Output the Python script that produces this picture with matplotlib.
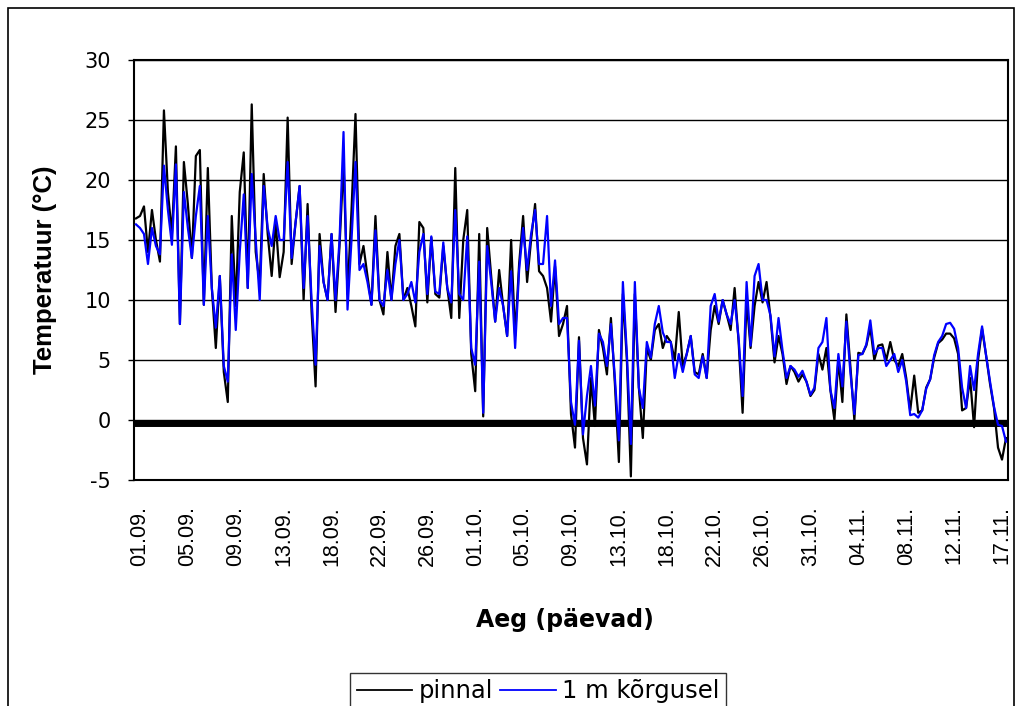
import numpy as np
import matplotlib.pyplot as plt
from matplotlib.patches import Rectangle

plt.rcParams['font.family'] = ['Liberation Sans', 'DejaVu Sans']
plt.rcParams['axes.unicode_minus'] = False

# temperatuur maapinnal (pinnal)
pinnal = [
    16.8, 17.0, 17.8, 14.0, 17.5, 15.0, 13.2, 25.8, 19.0, 15.5,
    22.8, 8.0, 21.5, 18.0, 13.5, 22.0, 22.5, 9.6, 21.0, 11.0,
    6.0, 12.0, 4.0, 1.5, 17.0, 9.5, 19.0, 22.3, 11.0, 26.3,
    14.0, 11.3, 20.5, 15.5, 12.0, 16.5, 11.9, 14.0, 25.2, 13.0,
    16.5, 19.5, 10.0, 18.0, 9.0, 2.8, 15.5, 11.5, 10.0, 15.5,
    9.0, 14.5, 21.5, 10.5, 17.5, 25.5, 13.0, 14.5, 12.0, 9.6,
    17.0, 10.0, 8.8, 14.0, 10.0, 14.5, 15.5, 10.0, 11.0, 9.5,
    7.8, 16.5, 16.0, 9.8, 15.2, 10.5, 10.2, 14.5, 11.0, 8.5,
    21.0, 8.5, 15.0, 17.5, 5.5, 2.4, 15.5, 0.3, 16.0, 12.0,
    8.2, 12.5, 9.5, 7.0, 15.0, 7.0, 13.0, 17.0, 11.5, 15.0,
    18.0, 12.4, 12.0, 11.0, 8.2, 12.8, 7.0, 8.0, 9.5, 0.5,
    -2.3, 6.9, -1.5, -3.7, 3.5, -0.5, 7.5, 6.0, 3.8, 8.5,
    3.0, -3.5, 10.5, 5.0, -4.7, 10.5, 2.7, -1.5, 6.0, 5.0,
    7.5, 8.0, 6.0, 7.0, 6.5, 5.0, 9.0, 4.5, 5.5, 7.0,
    4.0, 3.8, 5.5, 3.5, 7.5, 9.5, 8.0, 10.0, 8.8, 7.5,
    11.0, 6.5, 0.6, 10.0, 6.0, 9.5, 11.5, 9.8, 11.5, 8.5,
    4.8, 7.0, 5.5, 3.0, 4.5, 4.0, 3.2, 3.8, 3.2, 2.0,
    2.5, 5.5, 4.2, 6.0, 2.5, 0.0, 5.0, 1.5, 8.8, 4.5,
    0.0, 5.6, 5.5, 6.2, 7.7, 5.0, 6.2, 6.3, 5.0, 6.5,
    5.0, 4.5, 5.5, 3.5, 0.8, 3.7, 0.6, 0.8, 2.7, 3.4,
    5.2, 6.4, 6.7, 7.2, 7.2, 6.8, 5.5, 0.8, 1.0, 3.5,
    -0.6, 5.0, 7.6, 5.4, 3.0, 1.0, -2.3, -3.3, -1.5,
]

# temperatuur 1 m kõrgusel
korgusel = [
    16.3, 16.0, 15.5, 13.0, 16.0, 14.5, 13.8, 21.2, 17.5, 14.6,
    21.3, 8.0, 19.0, 16.0, 13.5, 17.0, 19.5, 9.6, 17.0, 11.0,
    7.7, 12.0, 4.5, 3.2, 13.8, 7.5, 14.0, 18.8, 11.0, 20.5,
    15.0, 10.0, 19.5, 16.0, 14.5, 17.0, 15.0, 15.0, 21.5, 13.5,
    16.5, 19.5, 11.0, 17.0, 10.0, 4.6, 14.5, 11.5, 10.0, 15.5,
    10.0, 15.0, 24.0, 9.2, 15.0, 21.5, 12.5, 13.0, 11.5, 9.6,
    15.8, 10.0, 9.5, 12.5, 10.0, 13.0, 15.0, 10.0, 10.5, 11.5,
    9.8, 14.0, 15.5, 10.5, 15.3, 10.7, 10.5, 14.8, 11.0, 9.8,
    17.5, 10.5, 10.0, 15.3, 6.0, 4.6, 13.2, 0.6, 14.5, 11.5,
    8.2, 11.0, 9.5, 7.0, 12.4, 6.0, 12.5, 16.0, 12.5, 15.5,
    17.5, 13.0, 13.0, 17.0, 9.5, 13.3, 8.0, 8.5, 8.5, 1.5,
    -0.4, 6.6, -1.2, 2.0, 4.5, 1.2, 7.2, 6.5, 4.5, 8.0,
    3.5, -1.7, 11.5, 5.5, -2.0, 11.5, 2.7, 1.0, 6.5, 5.2,
    8.0, 9.5, 7.3, 6.5, 6.5, 3.5, 5.5, 4.0, 5.5, 7.0,
    3.8, 3.5, 5.3, 3.5, 9.5, 10.5, 8.2, 10.0, 8.8, 8.0,
    10.0, 6.8, 2.0, 11.5, 6.2, 12.0, 13.0, 10.0, 10.0, 8.7,
    5.3, 8.5, 5.8, 3.5, 4.5, 4.2, 3.6, 4.1, 3.2, 2.1,
    2.7, 6.0, 6.5, 8.5, 2.5, 1.0, 5.5, 2.8, 8.2, 4.0,
    0.5, 5.4, 5.5, 6.3, 8.3, 5.5, 6.0, 6.0, 4.5, 5.0,
    5.5, 4.0, 5.0, 3.2, 0.4, 0.5, 0.2, 0.8, 2.6, 3.4,
    5.4, 6.5, 7.0, 8.0, 8.1, 7.6, 6.0, 2.7, 1.0, 4.5,
    2.5, 5.5, 7.8, 5.4, 3.2, 1.1, -0.4, -0.5, -1.8,
]

kuupaevad = ['01.09.', '05.09.', '09.09.', '13.09.', '18.09.', '22.09.',
             '26.09.', '01.10.', '05.10.', '09.10.', '13.10.', '18.10.',
             '22.10.', '26.10.', '31.10.', '04.11.', '08.11.', '12.11.',
             '17.11.']
null_joon = -0.27

# laiem kiri horisontaalsetele tekstidele
lai = ['DejaVu Sans']

n = len(pinnal)
x = np.arange(n)

fig = plt.figure(figsize=(10.15, 7.06), dpi=100)
ax = fig.add_axes([134 / 1015, 1 - 480 / 706, 874 / 1015, 420 / 706])

# paks joon nulli juures
ax.plot([-0.5, n - 0.5], [null_joon, null_joon], color='black', lw=5,
        solid_capstyle='butt', zorder=2)

ax.plot(x, pinnal, color='black', lw=1.6, label='pinnal', zorder=3)
ax.plot(x, korgusel, color='#0000ff', lw=1.6, label='1 m kõrgusel', zorder=4)

ax.set_xlim(-0.5, n - 0.5)
ax.set_ylim(-5, 30)
ax.set_yticks(np.arange(-5, 31, 5))
ax.yaxis.grid(True, color='black', lw=1.0)
ax.set_axisbelow(True)
for lab in ax.get_yticklabels():
    lab.set_family(lai)

ax.set_xticks(np.arange(len(kuupaevad)) * 12 + 1)
ax.set_xticklabels(kuupaevad, rotation=90, va='top', ha='center')
ax.tick_params(axis='x', length=0, pad=19, labelsize=15.5)
ax.tick_params(axis='y', direction='out', length=4.5, width=1, pad=12,
               labelsize=15)

for s in ax.spines.values():
    s.set_linewidth(1.5)
    s.set_color('black')

ax.set_ylabel('Temperatuur (°C)', fontsize=18.5, fontweight='bold')
ax.yaxis.set_label_coords(-0.088, 0.5)
ax.set_xlabel('Aeg (päevad)', fontsize=17, fontweight='bold', va='center',
              family=lai)
ax.xaxis.set_label_coords(0.493, -0.333)

leg = fig.legend(loc='upper center', bbox_to_anchor=(538 / 1015, 1 - 673 / 706),
                 ncol=2, frameon=True, fancybox=False,
                 prop={'family': lai, 'size': 17.5},
                 edgecolor='black', handlelength=2.3, handletextpad=0.25,
                 columnspacing=0.3, borderpad=0.25, borderaxespad=0)
leg.get_frame().set_linewidth(1.0)
for ln in leg.get_lines():
    ln.set_linewidth(1.3)

# raam ümber kogu joonise
fig.patches.append(Rectangle((8 / 1015, -0.05), 1006 / 1015, 1.05 - 8 / 706,
                             transform=fig.transFigure, fill=False,
                             edgecolor='black', lw=1.2))

fig.savefig('out.png', dpi=100)
